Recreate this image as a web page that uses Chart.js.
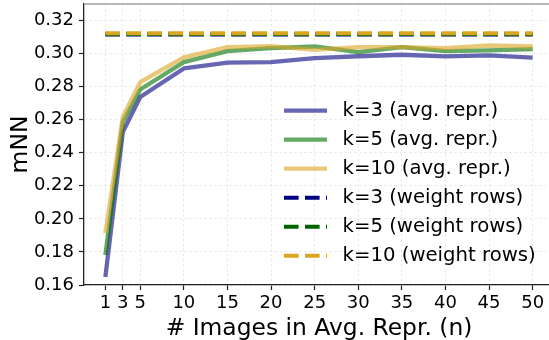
<!DOCTYPE html>
<html>
<head>
<meta charset="utf-8">
<script src="https://cdn.jsdelivr.net/npm/chart.js@4/dist/chart.umd.min.js"></script>
<style>
  html, body { margin: 0; padding: 0; background: #fff; overflow: hidden; }
  canvas { display: block; }
</style>
</head>
<body>
<canvas id="mnnChart" width="560" height="343"></canvas>
<script>
const nValues = [1, 3, 5, 10, 15, 20, 25, 30, 35, 40, 45, 50];
const k3Avg = [0.1648, 0.2526, 0.2737, 0.2910, 0.2945, 0.2948, 0.2972, 0.2984, 0.2993, 0.2983, 0.2989, 0.2975];
const k5Avg = [0.1781, 0.2586, 0.2783, 0.2948, 0.3015, 0.3033, 0.3043, 0.3009, 0.3039, 0.3015, 0.3019, 0.3027];
const k10Avg = [0.1914, 0.2616, 0.2827, 0.2977, 0.3039, 0.3045, 0.3023, 0.3039, 0.3039, 0.3033, 0.3049, 0.3043];
// weight rows give one value per k, drawn across the n range
const k3Weight = 0.31155;
const k5Weight = 0.3119;
const k10Weight = 0.31233;

const xTicks = [1, 3, 5, 10, 15, 20, 25, 30, 35, 40, 45, 50];
const yTicks = [0.16, 0.18, 0.20, 0.22, 0.24, 0.26, 0.28, 0.30, 0.32];
const yTickLabels = ["0.16", "0.18", "0.20", "0.22", "0.24", "0.26", "0.28", "0.30", "0.32"];

const FONT = "'DejaVu Sans', sans-serif";
const dash = [14.6, 6.4];

const pts = (vals) => nValues.map((n, i) => ({ x: n, y: vals[i] }));
const flat = (v) => [{ x: nValues[0], y: v }, { x: nValues[nValues.length - 1], y: v }];

function solid(label, data, color, order) {
  return { label, data, borderColor: color, borderWidth: 4.3, pointRadius: 0,
    tension: 0, borderJoinStyle: "round", order };
}
function dashed(label, data, color, order) {
  return { label, data, borderColor: color, borderWidth: 4, pointRadius: 0,
    tension: 0, borderDash: dash, order };
}

// legend drawn inside the plot, no frame, like the reference
const insideLegend = {
  id: "insideLegend",
  afterDraw(chart) {
    const ctx = chart.ctx;
    const sets = chart.data.datasets;
    ctx.save();
    ctx.font = "19.7px " + FONT;
    ctx.textBaseline = "middle";
    ctx.fillStyle = "#000";
    sets.forEach((ds, i) => {
      const y = 110.7 + i * 29;
      ctx.beginPath();
      ctx.lineWidth = ds.borderWidth;
      ctx.strokeStyle = ds.borderColor;
      ctx.setLineDash(ds.borderDash || []);
      ctx.moveTo(284, y);
      ctx.lineTo(327, y);
      ctx.stroke();
      ctx.setLineDash([]);
      ctx.fillText(ds.label, 342.5, y + 0.5);
    });
    // top spine
    const a = chart.chartArea;
    ctx.beginPath();
    ctx.lineWidth = 1.5;
    ctx.strokeStyle = "#a0a0a0";
    ctx.moveTo(a.left, a.top);
    ctx.lineTo(a.right + 10, a.top);
    ctx.stroke();
    ctx.restore();
  },
};

new Chart(document.getElementById("mnnChart"), {
  type: "line",
  data: {
    datasets: [
      solid("k=3 (avg. repr.)", pts(k3Avg), "rgba(0,0,128,0.6)", 6),
      solid("k=5 (avg. repr.)", pts(k5Avg), "rgba(0,110,0,0.6)", 5),
      solid("k=10 (avg. repr.)", pts(k10Avg), "rgba(218,165,32,0.6)", 4),
      dashed("k=3 (weight rows)", flat(k3Weight), "#000080", 3),
      dashed("k=5 (weight rows)", flat(k5Weight), "#006400", 2),
      dashed("k=10 (weight rows)", flat(k10Weight), "#daa520", 1),
    ],
  },
  plugins: [insideLegend],
  options: {
    responsive: false,
    animation: false,
    devicePixelRatio: 1,
    layout: { padding: { left: 0, top: 4, right: 6, bottom: 0 } },
    plugins: { legend: { display: false }, tooltip: { enabled: false } },
    scales: {
      x: {
        type: "linear",
        min: -1.45,
        max: 52.45,
        afterBuildTicks: (s) => { s.ticks = xTicks.map((v) => ({ value: v })); },
        afterFit: (s) => { s.height = 58; s.paddingLeft = 0; s.paddingRight = 0; },
        ticks: {
          font: { family: FONT, size: 18 },
          color: "#000",
          padding: 3,
          maxRotation: 0,
          autoSkip: false,
        },
        grid: { color: "#e2e2e2", lineWidth: 0.8, tickLength: 5, tickColor: "#222", tickWidth: 1.2 },
        border: { color: "#222", width: 1.3, dash: [2.5, 2.5] },
        title: {
          display: true,
          text: "# Images in Avg. Repr. (n)",
          font: { family: FONT, size: 23.4 },
          color: "#000",
          padding: 0,
        },
      },
      y: {
        min: 0.16,
        max: 0.33,
        afterBuildTicks: (s) => { s.ticks = yTicks.map((v) => ({ value: v })); },
        afterFit: (s) => { s.width = 84; s.paddingTop = 0; s.paddingBottom = 0; },
        ticks: {
          font: { family: FONT, size: 18 },
          color: "#000",
          padding: 5,
          callback: (v, i) => yTickLabels[i],
        },
        grid: { color: "#e2e2e2", lineWidth: 0.8, tickLength: 5, tickColor: "#222", tickWidth: 1.2 },
        border: { color: "#222", width: 1.3, dash: [2.5, 2.5] },
        title: {
          display: true,
          text: "mNN",
          font: { family: FONT, size: 23.4 },
          color: "#000",
          padding: { top: 7, bottom: 0 },
        },
      },
    },
  },
});
</script>
</body>
</html>
